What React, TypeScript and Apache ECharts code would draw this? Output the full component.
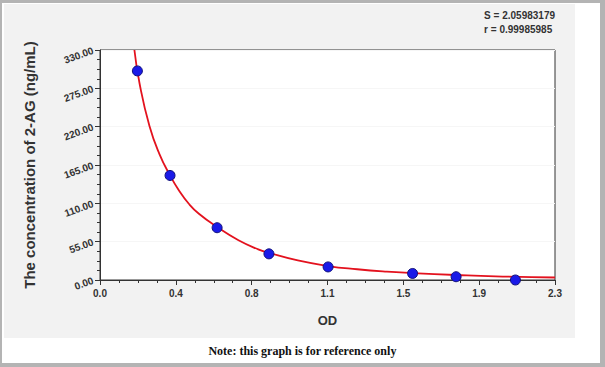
import React, { useEffect, useRef } from "react";
import * as echarts from "echarts";

const xTickLabels = ["0.0", "0.4", "0.8", "1.1", "1.5", "1.9", "2.3"];
const xMax = 2.3;
const yMax = 330;
const yInterval = 55;

// standard points (OD, concentration)
const pointOD = [0.189, 0.354, 0.592, 0.854, 1.153, 1.58, 1.8, 2.1];
const pointConc = [300, 150, 75, 37.5, 18.75, 9.38, 4.69, 0];

// fitted curve
const curveOD = [0.174, 0.2, 0.25, 0.3, 0.354, 0.4, 0.45, 0.5, 0.592, 0.7, 0.8, 0.854, 1.0, 1.153, 1.3, 1.45, 1.58, 1.8, 2.0, 2.3];
const curveConc = [330, 282, 221, 181, 150, 128, 109, 95, 76, 57, 44, 39, 28, 20, 15.4, 12, 10, 7.2, 5.2, 3.6];

const statLines = ["S = 2.05983179", "r = 0.99985985"];
const noteText = "Note: this graph is for reference only";
const xName = "OD";
const yName = "The concentration of 2-AG (ng/mL)";

export default function App() {
  const ref = useRef<HTMLDivElement>(null);
  useEffect(() => {
    if (!ref.current) return;
    const chart = echarts.init(ref.current, null, { renderer: "svg" });
    const xStep = xMax / (xTickLabels.length - 1);
    const font = "'Liberation Sans', Arial, sans-serif";
    chart.setOption({
      animation: false,
      backgroundColor: "#ffffff",
      graphic: [
        { type: "rect", z: -10, shape: { x: 0, y: 0, width: 605, height: 367 }, style: { fill: "#b4b4b4" } },
        { type: "rect", z: -9, shape: { x: 2, y: 3, width: 598, height: 360 }, style: { fill: "#ffffff" } },
        { type: "rect", z: -8, shape: { x: 4, y: 4, width: 571, height: 334 }, style: { fill: "#f2f2f2" } },
        {
          type: "text",
          left: "center",
          top: 345,
          style: { text: noteText, font: "bold 12px 'Liberation Serif', 'Times New Roman', serif", fill: "#111" },
        },
        {
          type: "text",
          right: 50,
          top: 8,
          style: { text: statLines.join("\n"), font: "bold 10px " + font, fill: "#333", align: "right", lineHeight: 14 },
        },
      ],
      grid: {
        left: 100,
        right: 50,
        top: 50,
        bottom: 87,
        show: true,
        backgroundColor: "#ffffff",
        borderColor: "#333",
        borderWidth: 1,
      },
      xAxis: {
        type: "value",
        min: 0,
        max: xMax,
        interval: xStep,
        name: xName,
        nameLocation: "middle",
        nameGap: 34,
        nameTextStyle: { fontFamily: font, fontWeight: "bold", fontSize: 13, color: "#333" },
        axisLine: { lineStyle: { color: "#333", width: 1 } },
        axisTick: { length: 5, lineStyle: { color: "#333" } },
        minorTick: { show: true, splitNumber: 4, length: 3, lineStyle: { color: "#333" } },
        splitLine: { show: false },
        axisLabel: {
          fontFamily: font,
          fontWeight: "bold",
          fontSize: 10,
          color: "#333",
          margin: 8,
          formatter: (v: number) => xTickLabels[Math.round(v / xStep)] ?? "",
        },
      },
      yAxis: {
        type: "value",
        min: 0,
        max: yMax,
        interval: yInterval,
        name: yName,
        nameLocation: "middle",
        nameGap: 63,
        nameTextStyle: { fontFamily: font, fontWeight: "bold", fontSize: 15, color: "#333" },
        axisLine: { show: true, lineStyle: { color: "#333", width: 1 } },
        axisTick: { show: true, length: 5, lineStyle: { color: "#333" } },
        minorTick: { show: true, splitNumber: 4, length: 3, lineStyle: { color: "#333" } },
        splitLine: { show: true, lineStyle: { color: "#f6f6f6" } },
        axisLabel: {
          fontFamily: font,
          fontWeight: "bold",
          fontSize: 10,
          color: "#333",
          rotate: 20,
          margin: 7,
          formatter: (v: number) => v.toFixed(2),
        },
      },
      series: [
        {
          type: "line",
          data: curveOD.map((x, i) => [x, curveConc[i]]),
          showSymbol: false,
          smooth: 0.5,
          lineStyle: { color: "#e3121e", width: 1.8 },
          z: 2,
        },
        {
          type: "scatter",
          data: pointOD.map((x, i) => [x, pointConc[i]]),
          symbolSize: 10,
          itemStyle: { color: "#1a1ae8", borderColor: "#10107a", borderWidth: 1, opacity: 1 },
          z: 3,
        },
      ],
    });
    return () => chart.dispose();
  }, []);
  return <div ref={ref} style={{ position: "absolute", left: 0, top: 0, width: 605, height: 367 }} />;
}
